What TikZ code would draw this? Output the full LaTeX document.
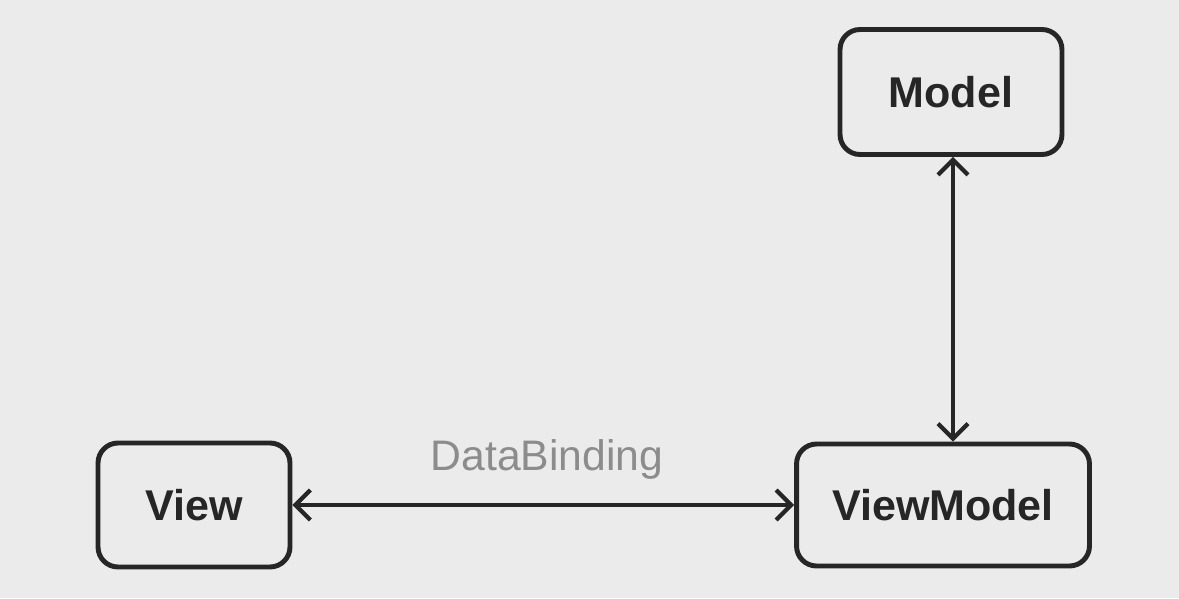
\documentclass[tikz,border=0pt]{standalone}
\usepackage{fontspec}
\setmainfont{Liberation Sans}
\usepackage{tikz}
\usetikzlibrary{arrows.meta}
\definecolor{paper}{HTML}{EBEBEB}
\definecolor{ink}{HTML}{262626}
\definecolor{note}{HTML}{8C8C8C}
\begin{document}
\begin{tikzpicture}[x=0.02cm,y=-0.02cm]
\tikzstyle{every node}+=[inner sep=0pt]
\tikzstyle{box}=[draw=ink,line width=2.8pt,rounded corners=0.4cm,font=\fontsize{24.5}{27}\selectfont\bfseries,text=ink]
\tikzstyle{link}=[ink,line width=2.4pt,{Straight Barb[length=8.5pt,width=17pt]}-{Straight Barb[length=8.5pt,width=17pt]}]
\fill [paper] (0,0) rectangle (1179,598);
\useasboundingbox (0,0) rectangle (1179,598);
\node [box,minimum width=4.44cm,minimum height=2.5cm] (model) at (951,92) {Model};
\node [box,minimum width=3.84cm,minimum height=2.48cm] (view) at (194,505) {View};
\node [box,minimum width=5.86cm,minimum height=2.44cm] (viewmodel) at (943,505) {ViewModel};
\draw [link] (view.east) -- (viewmodel.west);
\draw [link] (model.south -| 953,0) -- (viewmodel.north -| 953,0);
\node [text=note,font=\fontsize{24.3}{27}\selectfont] (binding) at (547,459) {DataBinding};
\end{tikzpicture}
\end{document}
